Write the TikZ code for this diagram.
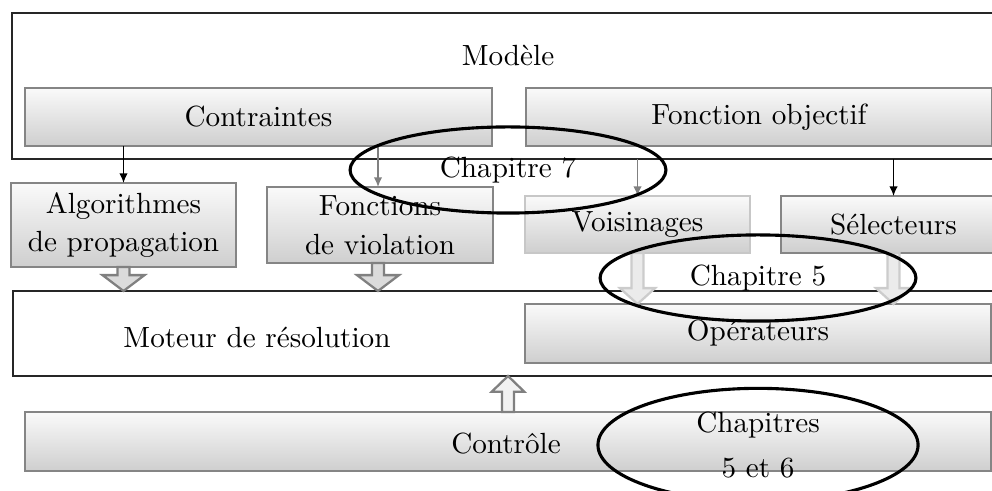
\documentclass[tikz,border=0pt]{standalone}
\usetikzlibrary{shapes.geometric,arrows.meta,calc,fit}

% hollow block arrow: #1 style, #2 tail, #3 tip, #4 half width of the head
\newcommand{\fatarrow}[4]{%
  \path (#2) coordinate (fa-s) (#3) coordinate (fa-e);
  \path ($(fa-e)!5.6pt!(fa-s)$) coordinate (fa-h);
  \draw[#1] ($(fa-s)!2.1pt!90:(fa-e)$) -- ($(fa-h)!2.1pt!90:(fa-e)$)
    -- ($(fa-h)!#4!90:(fa-e)$) -- (fa-e) -- ($(fa-h)!#4!-90:(fa-e)$)
    -- ($(fa-h)!2.1pt!-90:(fa-e)$) -- ($(fa-s)!2.1pt!-90:(fa-e)$) -- cycle;
}

\tikzset{
  every node/.style={inner sep=0pt, outer sep=0pt, font=\fontsize{10.3pt}{12.6pt}\selectfont},
  every label/.style={align=center, inner sep=0pt},
  frame/.style={draw=black!85, line width=0.45pt},
  card/.style={draw=black!48, line width=1pt, top color=black!2, bottom color=black!19},
  fadedcard/.style={card, draw=black!22},
  chap/.style={ellipse, draw=black, line width=1.1pt, align=center},
  thinarr/.style={-{Latex[length=3.4pt,width=3pt]}, line width=0.5pt},
  grayarr/.style={thinarr, draw=black!50},
  fat/.style={draw=black!50, fill=black!14, line width=0.8pt, line join=miter},
  fadedfat/.style={draw=black!20, fill=black!8, line width=0.8pt, line join=miter},
  upfat/.style={draw=black!50, fill=black!5, line width=0.8pt, line join=miter},
}

\begin{document}
\begin{tikzpicture}[x=0.353pt, y=-0.353pt]
  \useasboundingbox (0,0) rectangle (992,491);

  % model layer
  \node[frame, fit={(12,13)(1000,159)}] (modele) {};
  \node (modeleT) at (508,55) {Modèle};
  \node[card, fit={(25,88)(492,146)}, label=center:Contraintes] (contraintes) {};
  \node[card, fit={(526,88)(992,146)}, label=center:Fonction objectif] (fobj) {};

  % derived components
  \node[card, fit={(11,183)(236,267)},
        label={center:Algorithmes\\[1pt]de propagation}] (algo) {};
  \node[card, fit={(267,187)(493,263)},
        label={center:Fonctions\\[1pt]de violation}] (fviol) {};
  \node[fadedcard, fit={(525,196)(750,253)}, label=center:Voisinages] (vois) {};
  \node[card, fit={(781,196)(1006,253)}, label=center:Sélecteurs] (sel) {};

  % solver layer
  \node[frame, fit={(13,291)(1000,376)}] (moteur) {};
  \node (moteurT) at (257,337) {Moteur de résolution};
  \node[card, fit={(525,304)(991,363)}, label=center:Opérateurs] (operateurs) {};

  % control
  \node[card, fit={(25,412)(991,471)}] (controle) {};
  \node (controleT) at (506,444) {Contrôle};

  % thin arrows
  \draw[thinarr] (contraintes.south -| algo.north) -- (algo.north);
  \draw[grayarr] (contraintes.south -| 378,0) -- (fviol.north -| 378,0);
  \draw[grayarr] (modele.south -| vois.north) -- (vois.north);
  \draw[thinarr] (modele.south -| sel.north) -- (sel.north);

  % block arrows
  \fatarrow{fat}{algo.south}{moteur.north -| algo.south}{7.4pt}
  \fatarrow{fat}{fviol.south -| 378,0}{moteur.north -| 378,0}{7.4pt}
  \fatarrow{fadedfat}{vois.south}{operateurs.north -| vois.south}{6.2pt}
  \fatarrow{fadedfat}{sel.south}{operateurs.north -| sel.south}{6.2pt}
  \fatarrow{upfat}{controle.north}{moteur.south -| controle.north}{5.8pt}

  % chapter marks
  \node[chap, minimum width=111.5pt, minimum height=30.4pt] (ch7) at (508,170) {Chapitre 7};
  \node[chap, minimum width=111.5pt, minimum height=30.4pt] (ch5) at (758,278) {Chapitre 5};
  \node[chap, minimum width=113pt, minimum height=40pt] (ch56) at (758,445) {Chapitres\\[3pt]5 et 6};
\end{tikzpicture}
\end{document}
